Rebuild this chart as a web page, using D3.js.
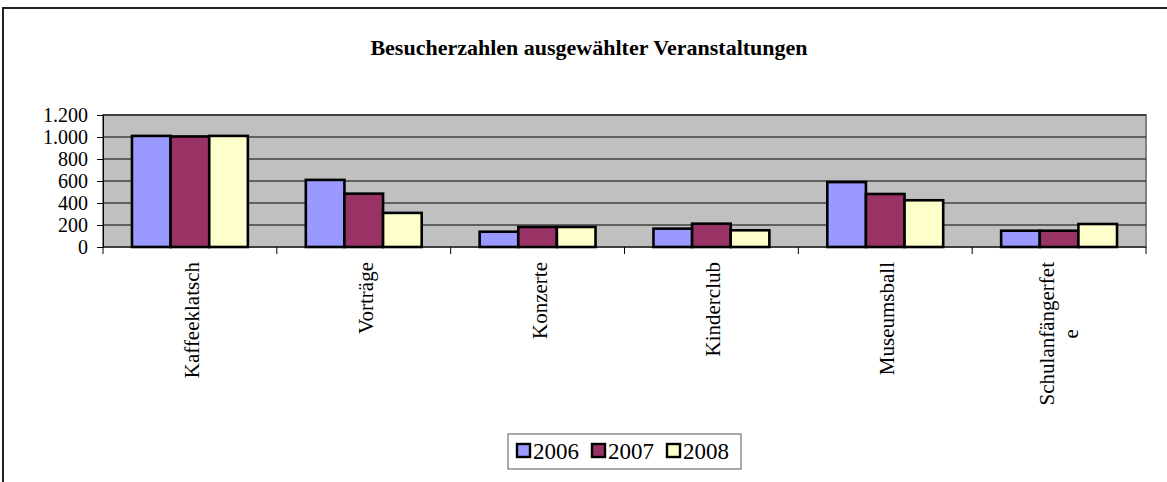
<!DOCTYPE html>
<html>
<head>
	<script src="https://d3js.org/d3.v7.min.js"></script>
	<title>Besucherzahlen</title>
	<style>
		body { margin: 0; background: #fff; }
		text { font-family: "Liberation Serif", "Times New Roman", serif; }
	</style>
</head>
<body>
	<svg id="chart" width="1167" height="482"></svg>
	<script>
		// data
		var categories = ["Kaffeeklatsch", "Vorträge", "Konzerte", "Kinderclub", "Museumsball", "Schulanfängerfete"];
		var years = ["2006", "2007", "2008"];
		var v2006 = [1010, 610, 139, 167, 590, 148];
		var v2007 = [1005, 485, 182, 212, 482, 148];
		var v2008 = [1010, 310, 182, 152, 425, 209];
		var yTicks = [0, 200, 400, 600, 800, 1000, 1200];
		var colors = ["#9999FF", "#993366", "#FFFFCC"];

		var series = [v2006, v2007, v2008];
		var svg = d3.select("#chart");

		// outer frame
		svg.append("path")
			.attr("d", "M3,482 L3,8 L1167,8")
			.attr("fill", "none")
			.attr("stroke", "#222")
			.attr("stroke-width", 2);

		var pLeft = 103, pRight = 1146, pTop = 115, pBottom = 247;

		var x0 = d3.scaleBand().domain(categories).range([pLeft, pRight]);
		var x1 = d3.scaleBand().domain(years).range([0, x0.bandwidth() * 2 / 3]);
		var y = d3.scaleLinear().domain([0, 1200]).range([pBottom, pTop]);

		// plot area
		svg.append("rect")
			.attr("x", pLeft).attr("y", pTop)
			.attr("width", pRight - pLeft).attr("height", pBottom - pTop)
			.attr("fill", "#C0C0C0")
			.attr("stroke", "#808080")
			.attr("stroke-width", 2);

		// gridlines
		svg.append("g").selectAll("line")
			.data(yTicks.filter(d => d > 0))
			.enter().append("line")
			.attr("x1", pLeft).attr("x2", pRight)
			.attr("y1", d => y(d)).attr("y2", d => y(d))
			.attr("stroke", "#000")
			.attr("stroke-width", 1);

		// bars
		var groups = svg.append("g").selectAll("g")
			.data(categories)
			.enter().append("g")
			.attr("transform", d => "translate(" + (x0(d) + x0.bandwidth() / 6) + ",0)");

		groups.selectAll("rect")
			.data((c, i) => years.map((yr, j) => ({ year: yr, value: series[j][i], idx: j })))
			.enter().append("rect")
			.attr("x", d => x1(d.year))
			.attr("y", d => y(d.value))
			.attr("width", x1.bandwidth())
			.attr("height", d => y(0) - y(d.value))
			.attr("fill", d => colors[d.idx])
			.attr("stroke", "#000")
			.attr("stroke-width", 2.6);

		// y axis
		var yAxis = d3.axisLeft(y).tickValues(yTicks).tickSize(6).tickPadding(9)
			.tickFormat(d => d3.format(",")(d).replace(",", "."));
		var gy = svg.append("g").attr("transform", "translate(" + pLeft + ",0)").call(yAxis);
		gy.select(".domain").attr("stroke", "#000").attr("stroke-width", 1);
		gy.selectAll(".tick line").attr("stroke", "#000");
		gy.selectAll("text")
			.attr("font-family", "Liberation Serif")
			.attr("font-size", 20)
			.attr("fill", "#000");

		// x axis line and ticks at category edges
		svg.append("line")
			.attr("x1", pLeft).attr("x2", pRight)
			.attr("y1", pBottom).attr("y2", pBottom)
			.attr("stroke", "#000");
		var edges = categories.map(c => x0(c)).concat([pRight]);
		svg.append("g").selectAll("line")
			.data(edges)
			.enter().append("line")
			.attr("x1", d => d).attr("x2", d => d)
			.attr("y1", pBottom).attr("y2", pBottom + 7)
			.attr("stroke", "#000");

		// category labels, rotated; long one wraps like in the original
		var labelLines = {"Schulanfängerfete": ["Schulanfängerfet", "e"]};
		var lineH = 24;
		svg.append("g").selectAll("g")
			.data(categories)
			.enter().append("g")
			.each(function(d) {
				var lines = labelLines[d] || [d];
				var cx = x0(d) + x0.bandwidth() / 2 + 9 - (lines.length - 1) * (lineH / 2 + 2);
				var g = d3.select(this)
					.attr("transform", "translate(" + cx + "," + (pBottom + 15) + ") rotate(-90)");
				var first = g.append("text")
					.attr("text-anchor", "end")
					.attr("font-size", 21)
					.attr("fill", "#000")
					.text(lines[0]);
				var len = first.node().getComputedTextLength();
				lines.slice(1).forEach((ln, i) => {
					g.append("text")
						.attr("x", -len / 2)
						.attr("y", (i + 1) * lineH)
						.attr("text-anchor", "middle")
						.attr("font-size", 21)
						.attr("fill", "#000")
						.text(ln);
				});
			});

		// title
		svg.append("text")
			.attr("x", 589).attr("y", 55)
			.attr("text-anchor", "middle")
			.attr("font-size", 22)
			.attr("font-weight", "bold")
			.attr("fill", "#000")
			.text("Besucherzahlen ausgewählter Veranstaltungen");

		// legend
		var lg = svg.append("g").attr("transform", "translate(508,434)");
		lg.append("rect")
			.attr("width", 233).attr("height", 35)
			.attr("fill", "#fff")
			.attr("stroke", "#555")
			.attr("stroke-width", 1);
		var items = lg.selectAll("g.item")
			.data(years)
			.enter().append("g")
			.attr("class", "item")
			.attr("transform", (d, i) => "translate(" + (9 + i * 75) + ",0)");
		items.append("rect")
			.attr("x", 0).attr("y", 10)
			.attr("width", 13).attr("height", 13)
			.attr("fill", (d, i) => colors[i])
			.attr("stroke", "#000")
			.attr("stroke-width", 2.4);
		items.append("text")
			.attr("x", 16).attr("y", 25)
			.attr("font-size", 23)
			.attr("fill", "#000")
			.text(d => d);
	</script>
</body>
</html>
